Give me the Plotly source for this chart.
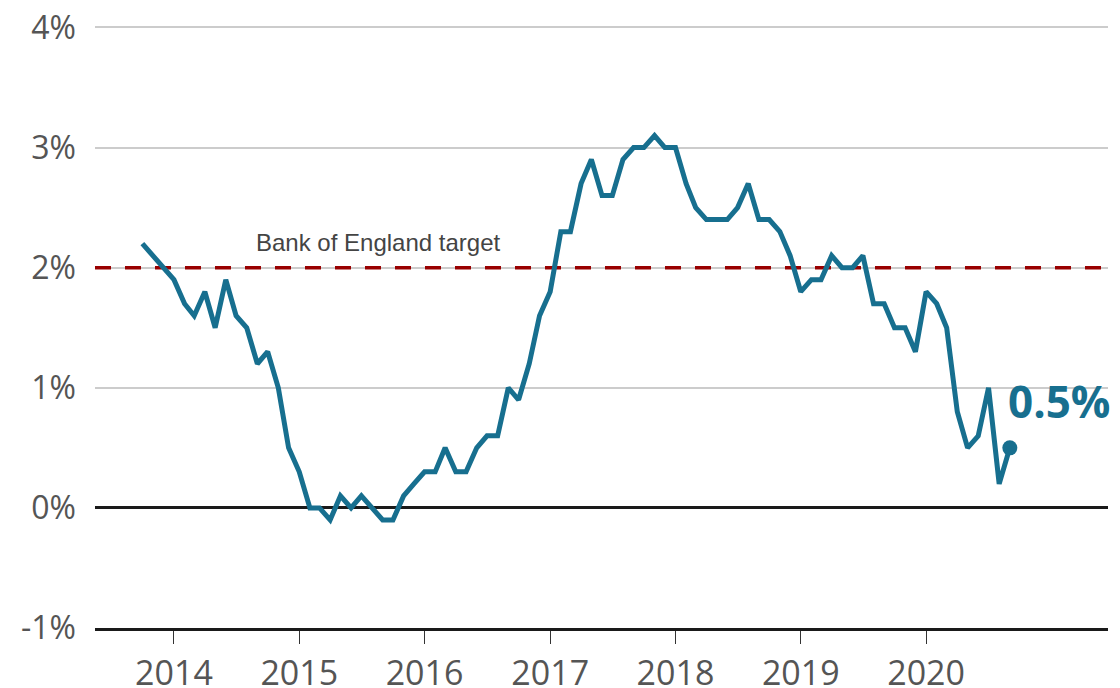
import plotly.graph_objects as go
import pandas as pd

# UK CPI inflation, monthly, Oct 2013 - Sep 2020
start_month = "2013-10-01"
cpi = [
    2.2, 2.1, 2.0,
    1.9, 1.7, 1.6, 1.8, 1.5, 1.9, 1.6, 1.5, 1.2, 1.3, 1.0, 0.5,
    0.3, 0.0, 0.0, -0.1, 0.1, 0.0, 0.1, 0.0, -0.1, -0.1, 0.1, 0.2,
    0.3, 0.3, 0.5, 0.3, 0.3, 0.5, 0.6, 0.6, 1.0, 0.9, 1.2, 1.6,
    1.8, 2.3, 2.3, 2.7, 2.9, 2.6, 2.6, 2.9, 3.0, 3.0, 3.1, 3.0,
    3.0, 2.7, 2.5, 2.4, 2.4, 2.4, 2.5, 2.7, 2.4, 2.4, 2.3, 2.1,
    1.8, 1.9, 1.9, 2.1, 2.0, 2.0, 2.1, 1.7, 1.7, 1.5, 1.5, 1.3,
    1.8, 1.7, 1.5, 0.8, 0.5, 0.6, 1.0, 0.2, 0.5,
]
dates = pd.date_range(start_month, periods=len(cpi), freq="MS")

target = 2.0
target_label = "Bank of England target"
y_ticks = [-1, 0, 1, 2, 3, 4]
y_ticktext = ["-1%", "0%", "1%", "2%", "3%", "4%"]
x_years = [2014, 2015, 2016, 2017, 2018, 2019, 2020]
x_range = ["2013-05-16", "2021-06-14"]
y_range = [-1, 4.012]

line_color = "#176f8f"
target_color = "#990000"
ytick_font = dict(family="Open Sans", size=32, color="#555555")
xtick_font = dict(family="Open Sans", size=34, color="#555555")

fig = go.Figure()

# target line drawn as a trace so it sits above the grid but below the CPI line
fig.add_trace(go.Scatter(
    x=x_range, y=[target, target], mode="lines",
    line=dict(color=target_color, width=3.5, dash="16px,14px"),
    hoverinfo="skip", showlegend=False, cliponaxis=False,
))

fig.add_trace(go.Scatter(
    x=dates, y=cpi, mode="lines",
    line=dict(color=line_color, width=5),
    hoverinfo="skip", showlegend=False,
))
fig.add_trace(go.Scatter(
    x=[dates[-1]], y=[cpi[-1]], mode="markers",
    marker=dict(color=line_color, size=15),
    hoverinfo="skip", showlegend=False,
))

fig.add_annotation(x="2015-08-20", y=target, xref="x", yref="y",
                   text=target_label, showarrow=False,
                   xanchor="center", yanchor="bottom", yshift=10,
                   font=dict(family="Liberation Sans, Arial", size=24, color="#444444"))

fig.add_annotation(x=dates[-1], y=cpi[-1], xref="x", yref="y",
                   text=f"<b>{cpi[-1]}%</b>", showarrow=False,
                   xanchor="left", yanchor="middle", xshift=-4, yshift=47,
                   font=dict(family="Open Sans", size=44, color=line_color))

# page body adds an 8px offset, so margins compensate for it
fig.update_layout(
    width=1120, height=688,
    margin=dict(l=87, r=20, t=18, b=68),
    paper_bgcolor="white", plot_bgcolor="white",
    showlegend=False,
)
fig.update_yaxes(
    range=y_range, tickvals=y_ticks, ticktext=y_ticktext,
    showgrid=True, gridcolor="#cccccc", gridwidth=1.5,
    zeroline=True, zerolinecolor="#1a1a1a", zerolinewidth=3,
    tickfont=ytick_font, ticklabelstandoff=18, fixedrange=True,
    automargin=False, ticklabeloverflow="allow",
)
fig.update_xaxes(
    range=x_range, type="date",
    tickvals=[f"{y}-01-01" for y in x_years],
    ticktext=[str(y) for y in x_years],
    showgrid=False, showline=True, linecolor="#1a1a1a", linewidth=3,
    ticks="outside", ticklen=13, tickwidth=1.2, tickcolor="#333333",
    tickfont=xtick_font, ticklabelstandoff=0, fixedrange=True,
    automargin=False, ticklabeloverflow="allow",
)

fig.write_html("out.html")
